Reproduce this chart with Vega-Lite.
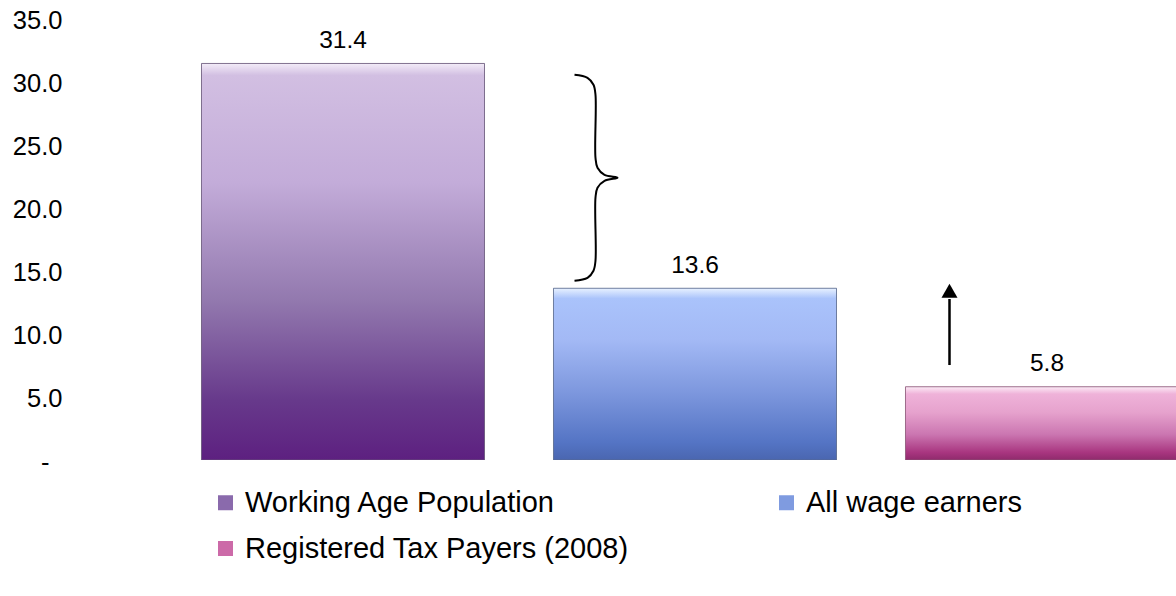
{
  "$schema": "https://vega.github.io/schema/vega-lite/v6.json",
  "autosize": "none",
  "width": 1009,
  "height": 442,
  "padding": {"left": 167, "top": 18, "right": 0, "bottom": 136},
  "background": "white",
  "config": {"view": {"stroke": null}, "font": "Liberation Sans"},
  "datasets": {
    "bars": [
      {"category": "Working Age Population", "value": 31.4},
      {"category": "All wage earners", "value": 13.6},
      {"category": "Registered Tax Payers (2008)", "value": 5.8}
    ],
    "brace": [
      {"i": 1, "x": 1.1577, "y": 30.50},
      {"i": 2, "x": 1.1946, "y": 30.26},
      {"i": 3, "x": 1.2116, "y": 29.71},
      {"i": 4, "x": 1.2173, "y": 28.92},
      {"i": 5, "x": 1.2173, "y": 23.93},
      {"i": 6, "x": 1.2230, "y": 23.14},
      {"i": 7, "x": 1.2429, "y": 22.58},
      {"i": 8, "x": 1.2798, "y": 22.35},
      {"i": 9, "x": 1.2429, "y": 22.11},
      {"i": 10, "x": 1.2230, "y": 21.56},
      {"i": 11, "x": 1.2173, "y": 20.77},
      {"i": 12, "x": 1.2173, "y": 15.78},
      {"i": 13, "x": 1.2116, "y": 14.99},
      {"i": 14, "x": 1.1946, "y": 14.43},
      {"i": 15, "x": 1.1577, "y": 14.20}
    ],
    "arrow": [
      {"x": 2.223, "y": 7.52, "y2": 12.75, "head": 13.4}
    ]
  },
  "resolve": {"scale": {"x": "independent"}},
  "layer": [
    {
      "data": {"name": "bars"},
      "layer": [
        {
          "mark": {"type": "bar", "clip": true},
          "encoding": {
            "x": {"field": "category", "type": "nominal", "sort": null,
                  "scale": {"range": [0, 1056], "paddingInner": 0.196, "paddingOuter": 0.098},
                  "axis": null},
            "y": {"field": "value", "type": "quantitative",
                  "scale": {"domain": [0, 35], "nice": false},
                  "axis": {"values": [0, 5, 10, 15, 20, 25, 30, 35], "title": null, "grid": false,
                           "domain": false, "ticks": false,
                           "labelPadding": {"condition": {"test": "datum.value == 0", "value": 118}, "value": 105},
                           "labelOffset": 2,
                           "labelFontSize": 25.5, "labelColor": "#000000", "labelFont": "Liberation Sans",
                           "labelExpr": "datum.value == 0 ? '-' : format(datum.value, '.1f')"}},
            "color": {"field": "category", "type": "nominal",
                      "scale": {"domain": ["Working Age Population", "All wage earners", "Registered Tax Payers (2008)"],
                                "range": ["#8a6aac", "#7f9be0", "#cc6aa8"]},
                      "legend": {"title": null, "orient": "none", "legendX": 44, "legendY": 470,
                                 "direction": "horizontal",
                                 "columns": 2, "columnPadding": 143, "rowPadding": 16, "padding": 0,
                                 "symbolType": "square", "symbolSize": 225, "symbolStrokeWidth": 0,
                                 "labelFontSize": 29, "labelFont": "Liberation Sans", "labelColor": "#000000",
                                 "labelOffset": 5, "labelLimit": 600}}
          }
        },
        {
          "transform": [{"filter": "datum.category == 'Working Age Population'"}],
          "mark": {"type": "bar", "clip": true, "stroke": "#6a5a7a", "strokeWidth": 0.8,
                   "color": {"gradient": "linear", "x1": 0, "y1": 0, "x2": 0, "y2": 1,
                             "stops": [
                               {"offset": 0, "color": "#f3ecf8"},
                               {"offset": 0.03, "color": "#d2bfe2"},
                               {"offset": 0.3, "color": "#c3acd9"},
                               {"offset": 0.6, "color": "#9278ae"},
                               {"offset": 0.85, "color": "#67398b"},
                               {"offset": 1, "color": "#5d2080"}]}},
          "encoding": {
            "x": {"field": "category", "type": "nominal", "sort": null},
            "y": {"field": "value", "type": "quantitative"}
          }
        },
        {
          "transform": [{"filter": "datum.category == 'All wage earners'"}],
          "mark": {"type": "bar", "clip": true, "stroke": "#5a6a8a", "strokeWidth": 0.8,
                   "color": {"gradient": "linear", "x1": 0, "y1": 0, "x2": 0, "y2": 1,
                             "stops": [
                               {"offset": 0, "color": "#e8f2ff"},
                               {"offset": 0.06, "color": "#aac3fb"},
                               {"offset": 0.3, "color": "#a3b9f5"},
                               {"offset": 0.6, "color": "#7e98de"},
                               {"offset": 0.9, "color": "#5474c4"},
                               {"offset": 1, "color": "#4a66b0"}]}},
          "encoding": {
            "x": {"field": "category", "type": "nominal", "sort": null},
            "y": {"field": "value", "type": "quantitative"}
          }
        },
        {
          "transform": [{"filter": "datum.category == 'Registered Tax Payers (2008)'"}],
          "mark": {"type": "bar", "clip": true, "stroke": "#8a5a78", "strokeWidth": 0.8,
                   "color": {"gradient": "linear", "x1": 0, "y1": 0, "x2": 0, "y2": 1,
                             "stops": [
                               {"offset": 0, "color": "#fcebf6"},
                               {"offset": 0.1, "color": "#efb2d9"},
                               {"offset": 0.35, "color": "#e6a2cd"},
                               {"offset": 0.65, "color": "#cb76b1"},
                               {"offset": 0.9, "color": "#a8357f"},
                               {"offset": 1, "color": "#8f2a6c"}]}},
          "encoding": {
            "x": {"field": "category", "type": "nominal", "sort": null},
            "y": {"field": "value", "type": "quantitative"}
          }
        },
        {
          "mark": {"type": "text", "font": "Liberation Sans", "fontSize": 24.5, "color": "#000000",
                   "baseline": "middle", "align": "center", "dy": -22.5},
          "encoding": {
            "x": {"field": "category", "type": "nominal", "sort": null},
            "y": {"field": "value", "type": "quantitative"},
            "text": {"field": "value", "type": "quantitative", "format": ".1f"}
          }
        }
      ]
    },
    {
      "data": {"name": "brace"},
      "mark": {"type": "line", "interpolate": "catmull-rom", "color": "#000000", "strokeWidth": 2},
      "encoding": {
        "x": {"field": "x", "type": "quantitative", "scale": {"domain": [0, 3], "range": [0, 1056], "nice": false, "zero": false}, "axis": null},
        "y": {"field": "y", "type": "quantitative"},
        "order": {"field": "i", "type": "quantitative"}
      }
    },
    {
      "data": {"name": "arrow"},
      "layer": [
        {
          "mark": {"type": "rule", "color": "#000000", "strokeWidth": 2.5},
          "encoding": {
            "x": {"field": "x", "type": "quantitative", "scale": {"domain": [0, 3], "range": [0, 1056], "nice": false, "zero": false}, "axis": null},
            "y": {"field": "y", "type": "quantitative"},
            "y2": {"field": "y2"}
          }
        },
        {
          "mark": {"type": "point", "shape": "triangle-up", "filled": true, "color": "#000000", "size": 256, "opacity": 1},
          "encoding": {
            "x": {"field": "x", "type": "quantitative", "scale": {"domain": [0, 3], "range": [0, 1056], "nice": false, "zero": false}, "axis": null},
            "y": {"field": "head", "type": "quantitative"}
          }
        }
      ]
    }
  ]
}
